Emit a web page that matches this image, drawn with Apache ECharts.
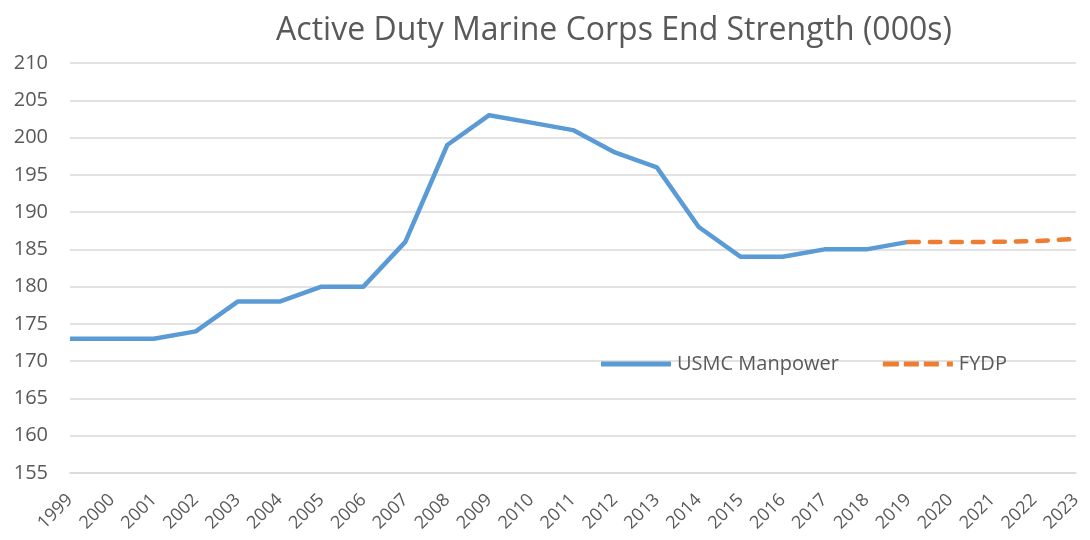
<!DOCTYPE html>
<html>
<head>
<meta charset="utf-8">
<script src="https://cdn.jsdelivr.net/npm/echarts@6/dist/echarts.min.js"></script>
<style>
  html, body { margin: 0; padding: 0; background: #fff; }
  #chart { width: 1090px; height: 540px; }
</style>
</head>
<body>
<div id="chart"></div>
<script>
// years on the x axis
let years = ['1999','2000','2001','2002','2003','2004','2005','2006','2007','2008','2009','2010',
  '2011','2012','2013','2014','2015','2016','2017','2018','2019','2020','2021','2022','2023'];

// end strength, thousands (blank where the series has no value)
let usmcManpower = [173,173,173,174,178,178,180,180,186,199,203,202,
  201,198,196,188,184,184,185,185,186,null,null,null,null];
let fydp = [null,null,null,null,null,null,null,null,null,null,null,null,
  null,null,null,null,null,null,null,null,186,186,186,186.1,186.4];

let font = '"Open Sans", "Liberation Sans", sans-serif';
let grey = '#595959';

let myChart = echarts.init(document.getElementById('chart'));

let option = {
  animation: false,
  title: {
    text: 'Active Duty Marine Corps End Strength (000s)',
    left: 609,
    top: 10,
    textAlign: 'center',
    textStyle: { fontFamily: font, fontSize: 32, fontWeight: 'normal', color: grey }
  },
  legend: {
    left: 596,
    top: 349,
    itemWidth: 70,
    itemHeight: 5,
    itemGap: 44,
    symbolKeepAspect: false,
    textStyle: { fontFamily: font, fontSize: 20, color: grey, padding: [0, 0, 0, 1] },
    data: [
      // solid bar / dashed bar legend keys
      { name: 'USMC Manpower', icon: 'path://M0,0h70v5h-70z' },
      { name: 'FYDP', icon: 'path://M0,0h16v5h-16zM21,0h15v5h-15zM41,0h15v5h-15zM64,0h6v5h-6z' }
    ]
  },
  grid: { left: 70, right: 14, top: 63, bottom: 67 },
  xAxis: {
    type: 'category',
    data: years,
    boundaryGap: false,
    axisLine: { show: true, lineStyle: { color: '#D9D9D9', width: 1.5 } },
    axisTick: { show: false },
    axisLabel: {
      rotate: 45,
      interval: 0,
      fontFamily: font,
      fontSize: 18,
      color: grey,
      margin: 24
    }
  },
  yAxis: {
    type: 'value',
    min: 155,
    max: 210,
    interval: 5,
    axisLine: { show: false },
    axisTick: { show: false },
    axisLabel: { fontFamily: font, fontSize: 20, color: grey, margin: 22 },
    splitLine: { lineStyle: { color: '#D9D9D9', width: 1.5 } }
  },
  series: [
    {
      name: 'USMC Manpower',
      type: 'line',
      data: usmcManpower,
      symbol: 'none',
      itemStyle: { color: '#5B9BD5' },
      lineStyle: { color: '#5B9BD5', width: 4.5, join: 'round' }
    },
    {
      name: 'FYDP',
      type: 'line',
      data: fydp,
      symbol: 'none',
      itemStyle: { color: '#ED7D31' },
      lineStyle: { color: '#ED7D31', width: 4.5, type: [10.5, 11], cap: 'round', join: 'round' }
    }
  ]
};

myChart.setOption(option);
</script>
</body>
</html>
